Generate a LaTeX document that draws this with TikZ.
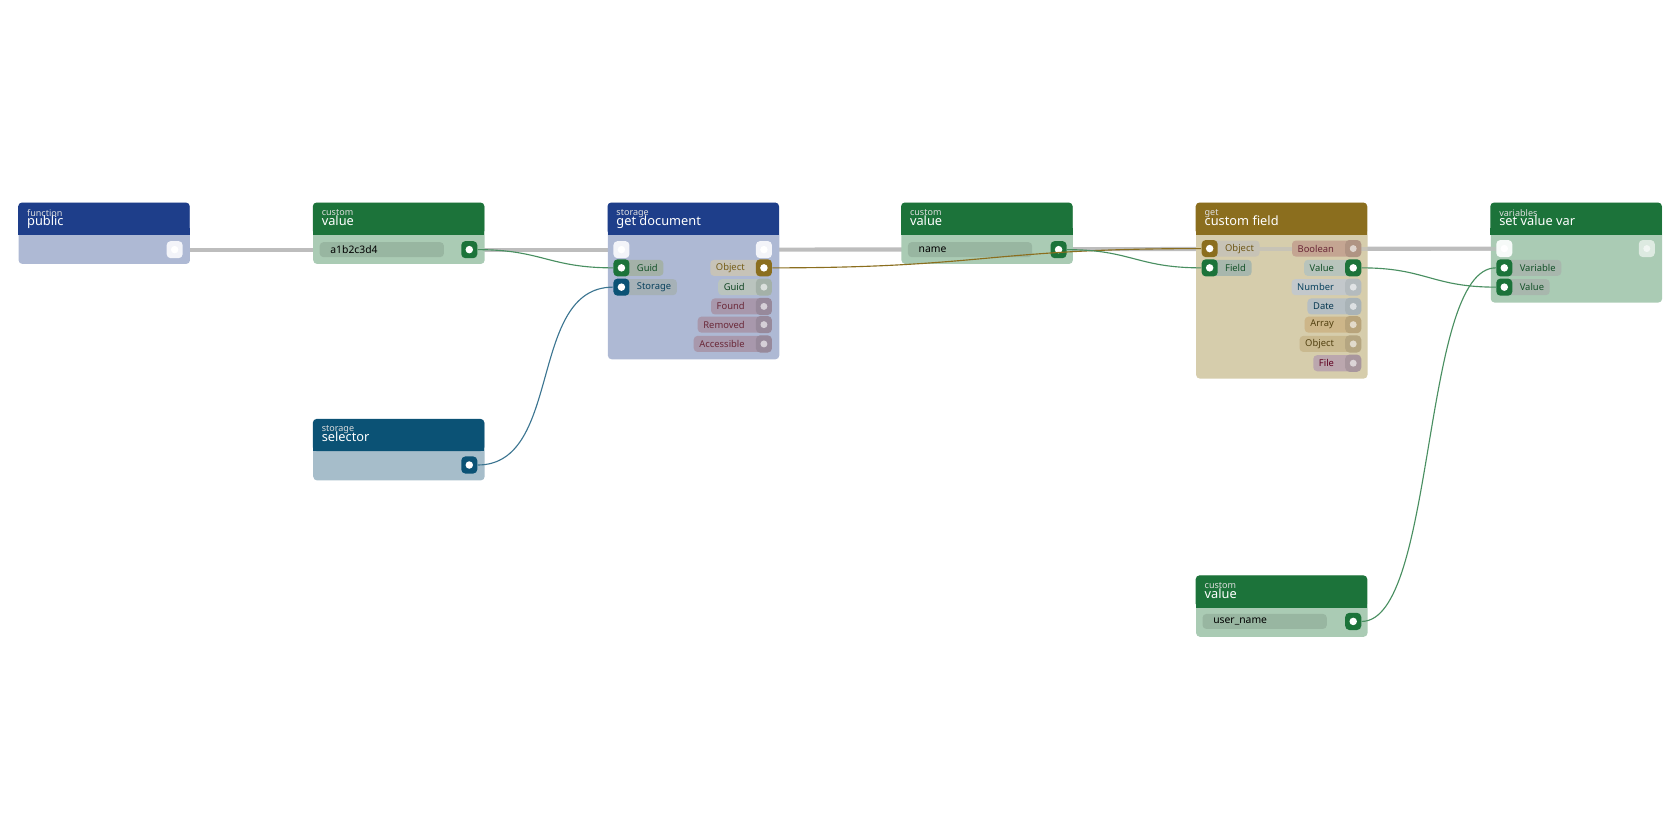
\documentclass[tikz,border=0pt]{standalone}
\usepackage{fontspec}
\setmainfont{Noto Sans}
\usepackage{xcolor}
\usetikzlibrary{positioning, calc}

\definecolor{blueH}{HTML}{1E3E8A}
\definecolor{blueB}{HTML}{AEB9D4}
\definecolor{greenH}{HTML}{1C733A}
\definecolor{greenB}{HTML}{AACBB4}
\definecolor{tealH}{HTML}{0B5275}
\definecolor{tealB}{HTML}{A6BDCA}
\definecolor{goldH}{HTML}{8B6E1E}
\definecolor{goldB}{HTML}{D6CDAC}
\definecolor{execL}{HTML}{BDBDBD}
\definecolor{mauveP}{HTML}{A898AC}
\definecolor{mauveT}{HTML}{6A2838}
\definecolor{boolP}{HTML}{C4A592}
\definecolor{arrP}{HTML}{CDB689}
\definecolor{objP}{HTML}{C9B98F}
\definecolor{fileP}{HTML}{BBA7AE}

% panel: name, x, y, height, header colour, body colour, category, title
\newcommand{\panel}[8]{%
  \node[panelbody=#6, minimum height=#4*0.02cm, anchor=north west] (#1) at (#2,#3) {};
  \fill[#5, rounded corners=2pt] (#2,#3) rectangle ++(160,30);
  \fill[#5] (#2,#3+24) rectangle ++(160,6);
  \node[cat, anchor=north west] (#1-cat) at (#2+8,#3+6) {#7};
  \node[title, anchor=north west] (#1-title) at (#2+8,#3+12) {#8};
}

\begin{document}
\begin{tikzpicture}[x=0.02cm, y=-0.02cm,
    panelbody/.style={rectangle, fill=#1, rounded corners=2pt, minimum width=3.2cm, inner sep=0pt},
    cat/.style={inner sep=0pt, text=white!75!gray, font=\fontsize{4.8}{5}\selectfont},
    title/.style={inner sep=0pt, text=white, font=\fontsize{6.8}{7}\selectfont},
    port/.style={rectangle, rounded corners=2.2pt, fill=#1, minimum width=0.3cm, minimum height=0.32cm, inner sep=0pt,
      path picture={\fill[white] (path picture bounding box.center) circle (0.07cm);}},
    dimport/.style={rectangle, rounded corners=2.2pt, fill=#1, minimum width=0.3cm, minimum height=0.32cm, inner sep=0pt,
      path picture={\fill[white, opacity=0.6] (path picture bounding box.center) circle (0.065cm);}},
    pill/.style={rectangle, rounded corners=2pt, fill=#1, minimum height=0.3cm, inner ysep=0pt, inner xsep=3pt,
      font=\fontsize{5}{5}\selectfont},
    field/.style={rectangle, rounded corners=2pt, fill=black, fill opacity=0.1, text opacity=1, minimum width=2.32cm,
      minimum height=0.28cm, inner sep=0pt, anchor=west, text width=2.2cm, font=\fontsize{5.5}{5}\selectfont},
    exec/.style={execL, line width=2.2pt},
    wire/.style={line width=0.6pt, #1}
  ]
  \useasboundingbox (0,0) rectangle (1568,784);

  % exec lines behind the panels
  \coordinate (e1) at (163,233);
  \coordinate (e2) at (580,233);
  \coordinate (e3) at (713,233);
  \coordinate (e4) at (1404,232);
  \draw[exec] (e1) -- (e2);
  \draw[exec] (e3) -- (e4);

  % panels
  \panel{public}{17}{189}{57}{blueH}{blueB}{function}{public}
  \panel{val1}{292}{189}{57}{greenH}{greenB}{custom}{value}
  \panel{getdoc}{567}{189}{146}{blueH}{blueB}{storage}{get document}
  \panel{sel}{292}{391}{57}{tealH}{tealB}{storage}{selector}
  \panel{val2}{841}{189}{57}{greenH}{greenB}{custom}{value}
  \panel{cfield}{1116}{189}{164}{goldH}{goldB}{get}{custom field}
  \panel{setvar}{1391}{189}{93}{greenH}{greenB}{variables}{set value var}
  \panel{val3}{1116}{537}{57}{greenH}{greenB}{custom}{value}

  \draw[exec, opacity=0.6] (1129,232) -- (e4);

  % value fields
  \node[field] (f1) at (298,233) {\kern4pt a1b2c3d4};
  \node[field] (f2) at (847,233) {\kern4pt name};
  \node[field] (f3) at (1122,580) {\kern4pt user\_name};

  % pills: inputs
  \node[pill=greenH!25!gray!60, text=greenH!70!black, anchor=west] (pGuid) at (573,250) {\kern9pt Guid};
  \node[pill=tealH!30!gray!55, text=tealH!80!black, anchor=west] (pSto) at (573,268) {\kern9pt Storage};
  \node[pill=goldH!35!gray!45, text=goldH!80!black, anchor=west] (pObjIn) at (1122,232) {\kern9pt Object};
  \node[pill=greenH!30!gray!55, text=greenH!70!black, anchor=west] (pField) at (1122,250) {\kern9pt Field};
  \node[pill=greenH!30!gray!55, text=greenH!70!black, anchor=west] (pVar) at (1397,250) {\kern9pt Variable};
  \node[pill=greenH!30!gray!55, text=greenH!70!black, anchor=west] (pVal) at (1397,268) {\kern9pt Value};

  % pills: outputs
  \node[pill=goldH!30!gray!45, text=goldH!85!black, anchor=east] (pObj) at (720,250) {Object\kern11pt};
  \node[pill=greenH!25!gray!45, text=greenH!60!black, anchor=east] (pGuidO) at (720,268) {Guid\kern11pt};
  \node[pill=mauveP, text=mauveT, anchor=east] (pFound) at (720,286) {Found\kern11pt};
  \node[pill=mauveP, text=mauveT, anchor=east] (pRem) at (720,303) {Removed\kern11pt};
  \node[pill=mauveP, text=mauveT, anchor=east] (pAcc) at (720,321) {Accessible\kern11pt};
  \node[pill=boolP, text=mauveT, anchor=east] (pBool) at (1270,232) {Boolean\kern11pt};
  \node[pill=greenH!30!gray!45, text=greenH!70!black, anchor=east] (pValO) at (1270,250) {Value\kern11pt};
  \node[pill=tealH!20!gray!40, text=tealH!80!black, anchor=east] (pNum) at (1270,268) {Number\kern11pt};
  \node[pill=tealH!30!gray!45, text=tealH!70!black, anchor=east] (pDate) at (1270,286) {Date\kern11pt};
  \node[pill=arrP, text=goldH!60!black, anchor=east] (pArr) at (1270,303) {Array\kern11pt};
  \node[pill=objP, text=goldH!60!black, anchor=east] (pObjO) at (1270,321) {Object\kern11pt};
  \node[pill=fileP, text=purple!50!black, anchor=east] (pFile) at (1270,339) {File\kern11pt};

  % ports
  \node[port=white!85!blueB] (oPub) at (163,233) {};
  \node[port=greenH] (oV1) at (438,233) {};
  \node[port=tealH] (oSel) at (438,434) {};
  \node[port=greenH] (oV2) at (988,233) {};
  \node[port=greenH] (oV3) at (1263,580) {};
  \node[port=white!85!blueB] (iDoc) at (580,233) {};
  \node[port=white!85!blueB] (oDoc) at (713,233) {};
  \node[port=greenH] (iGuid) at (580,250) {};
  \node[port=tealH] (iSto) at (580,268) {};
  \node[port=goldH] (oObj) at (713,250) {};
  \node[dimport=greenH!25!gray!60] (oGuid) at (713,268) {};
  \node[dimport=mauveP!90!black] (oFound) at (713,286) {};
  \node[dimport=mauveP!90!black] (oRem) at (713,303) {};
  \node[dimport=mauveP!90!black] (oAcc) at (713,321) {};
  \node[port=goldH] (iObj) at (1129,232) {};
  \node[port=greenH] (iField) at (1129,250) {};
  \node[dimport=boolP!90!black] (oBool) at (1263,232) {};
  \node[port=greenH] (oVal) at (1263,250) {};
  \node[dimport=tealH!20!gray!50] (oNum) at (1263,268) {};
  \node[dimport=tealH!25!gray!55] (oDate) at (1263,286) {};
  \node[dimport=arrP!90!black] (oArr) at (1263,303) {};
  \node[dimport=objP!90!black] (oObjO) at (1263,321) {};
  \node[dimport=fileP!90!black] (oFile) at (1263,339) {};
  \node[port=white!90!greenB] (iSet) at (1404,232) {};
  \node[dimport=white!60!greenB] (oSet) at (1537,232) {};
  \node[port=greenH] (iVar) at (1404,250) {};
  \node[port=greenH] (iVal) at (1404,268) {};

  % data wires
  \draw[wire=greenH!80] (oV1.east) .. controls +(60,0) and +(-60,0) .. (iGuid.west);
  \draw[wire=tealH!80] (oSel.east) .. controls +(80,0) and +(-80,0) .. (iSto.west);
  \draw[wire=goldH] (oObj.east) .. controls +(200,0) and +(-200,0) .. (iObj.west);
  \draw[wire=greenH!80] (oV2.east) .. controls +(60,0) and +(-60,0) .. (iField.west);
  \draw[wire=greenH!80] (oVal.east) .. controls +(60,0) and +(-60,0) .. (iVal.west);
  \draw[wire=greenH!80] (oV3.east) .. controls +(70,0) and +(-70,0) .. (iVar.west);
\end{tikzpicture}
\end{document}
